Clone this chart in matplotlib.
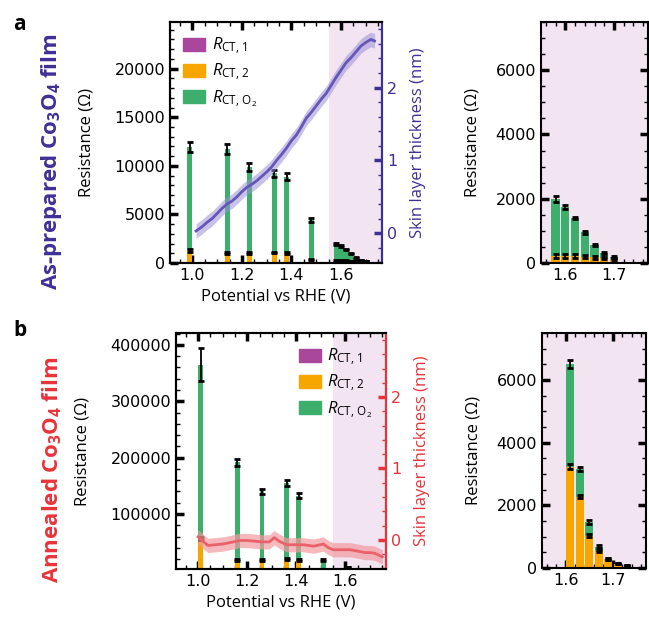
import numpy as np
import matplotlib
matplotlib.use('Agg')
import matplotlib.pyplot as plt
from matplotlib.patches import Patch
from matplotlib.ticker import MultipleLocator

plt.rcParams['font.family'] = ['DejaVu Sans']
plt.rcParams['mathtext.fontset'] = 'custom'
plt.rcParams['mathtext.rm'] = 'Open Sans'
plt.rcParams['mathtext.it'] = 'Open Sans:italic'
plt.rcParams['mathtext.bf'] = 'Open Sans:bold'

# ---- panel a : as-prepared film ----
a_pot = [0.99, 1.14, 1.23, 1.33, 1.38, 1.48, 1.58, 1.60, 1.62, 1.64, 1.66, 1.68, 1.70]
a_r1 = [30, 30, 30, 30, 30, 30, 30, 30, 30, 30, 30, 30, 30]
a_r2 = [1300, 1000, 1000, 1050, 1000, 350, 180, 200, 190, 170, 150, 130, 100]
a_ro2 = [10620, 10720, 8870, 8170, 7870, 4020, 1790, 1520, 1180, 750, 370, 140, 70]
a_r2_err = [150, 100, 100, 100, 100, 80, 60, 60, 50, 40, 40, 30, 30]
a_ro2_err = [550, 500, 400, 350, 350, 200, 100, 70, 40, 40, 30, 30, 30]

a_skin_v = [1.015, 1.04, 1.06, 1.08, 1.10, 1.12, 1.14, 1.16, 1.18, 1.20, 1.22, 1.24,
            1.26, 1.28, 1.30, 1.32, 1.34, 1.36, 1.38, 1.40, 1.42, 1.44, 1.46, 1.48,
            1.50, 1.52, 1.54, 1.56, 1.58, 1.60, 1.62, 1.64, 1.66, 1.68, 1.70, 1.72, 1.735]
a_skin = [0.03, 0.09, 0.15, 0.20, 0.27, 0.34, 0.40, 0.44, 0.50, 0.57, 0.63, 0.67,
          0.72, 0.78, 0.84, 0.91, 1.00, 1.08, 1.17, 1.27, 1.35, 1.46, 1.58, 1.66,
          1.75, 1.84, 1.92, 2.03, 2.14, 2.24, 2.34, 2.41, 2.49, 2.57, 2.62, 2.66, 2.64]

# ---- panel b : annealed film ----
b_pot = [1.01, 1.16, 1.26, 1.36, 1.41, 1.51, 1.61, 1.63, 1.65, 1.67, 1.69, 1.71, 1.73]
b_r1 = [30, 30, 30, 30, 30, 30, 30, 30, 30, 30, 30, 30, 30]
b_r2 = [57000, 18000, 18000, 20000, 18000, 1500, 3200, 2250, 1000, 520, 250, 110, 40]
b_ro2 = [308000, 174000, 122000, 134500, 114500, 16500, 3270, 870, 440, 130, 20, 0, 0]
b_r2_err = [3000, 1500, 1500, 1500, 1500, 500, 80, 60, 50, 40, 30, 20, 20]
b_ro2_err = [30000, 6000, 5000, 5000, 4000, 1500, 130, 60, 50, 40, 30, 20, 20]

b_skin_v = [1.00, 1.02, 1.04, 1.07, 1.10, 1.13, 1.17, 1.20, 1.23, 1.26, 1.29, 1.31,
            1.33, 1.36, 1.40, 1.43, 1.47, 1.51, 1.53, 1.55, 1.58, 1.62, 1.65, 1.68,
            1.70, 1.72, 1.75]
b_skin = [0.04, -0.02, -0.08, -0.07, -0.06, -0.04, -0.01, -0.01, -0.02, -0.03, -0.03, 0.03,
          -0.02, -0.07, -0.07, -0.07, -0.09, -0.06, -0.11, -0.14, -0.14, -0.14, -0.16, -0.18,
          -0.18, -0.19, -0.24]
skin_unc = 0.1

c_r1 = '#a8479b'
c_r2 = '#f7a600'
c_ro2 = '#3dae6b'
shade = '#f2e4f1'
indigo = '#3f3096'
red = '#e8333a'

fig = plt.figure(figsize=(6.49, 6.17), dpi=100)


def style(ax, right=True):
    for s in ax.spines.values():
        s.set_linewidth(1.5)
    ax.tick_params(which='major', direction='in', length=6, width=2.5,
                   top=True, right=right, labelsize=11.5)
    ax.tick_params(which='minor', direction='in', length=3, width=1,
                   top=True, right=right)


def bars(ax, pot, r1, r2, ro2, r2e, ro2e, w):
    pot = np.array(pot)
    r1 = np.array(r1)
    r2 = np.array(r2)
    ro2 = np.array(ro2)
    ax.bar(pot, r1, w, color=c_r1, zorder=2)
    ax.bar(pot, r2, w, bottom=r1, color=c_r2, zorder=2)
    ax.bar(pot, ro2, w, bottom=r1 + r2, color=c_ro2, zorder=2)
    ax.errorbar(pot, r1 + r2, yerr=r2e, fmt='none', ecolor='black',
                elinewidth=1.3, capsize=2.5, capthick=2, zorder=3)
    ax.errorbar(pot, r1 + r2 + ro2, yerr=ro2e, fmt='none', ecolor='black',
                elinewidth=1.3, capsize=2.5, capthick=2, zorder=3)


def legend(ax, loc):
    handles = [Patch(color=c_r1), Patch(color=c_r2), Patch(color=c_ro2)]
    labels = [r'$R_{\mathrm{CT,\,1}}$', r'$R_{\mathrm{CT,\,2}}$', r'$R_{\mathrm{CT,\,O_2}}$']
    ax.legend(handles, labels, loc=loc, frameon=False, fontsize=12,
              handlelength=1.3, handleheight=0.8, handletextpad=0.4,
              labelspacing=0.3, borderaxespad=0.4)


W, H = 649, 617


def box(l, t, r, b):
    return [l / W, 1 - b / H, (r - l) / W, (b - t) / H]


panels = [
    dict(main=box(170, 22, 382, 263), ins=box(541, 22, 648, 263), pot=a_pot,
         r1=a_r1, r2=a_r2, ro2=a_ro2, r2e=a_r2_err, ro2e=a_ro2_err,
         sv=a_skin_v, sk=a_skin, col=indigo, line='#6656b8', band='#9c91d8', alpha=0.55,
         ylim=(0, 24800), minor=1000, loc='upper left', letter='a',
         title='As-prepared Co$_\\mathbf{3}$O$_\\mathbf{4}$ film', ty=0.738, lety=0.96),
    dict(main=box(176, 333, 386, 569), ins=box(542, 333, 646, 568), pot=b_pot,
         r1=b_r1, r2=b_r2, ro2=b_ro2, r2e=b_r2_err, ro2e=b_ro2_err,
         sv=b_skin_v, sk=b_skin, col=red, line='#e9626a', band='#f19ba1', alpha=0.7,
         ylim=(2500, 421000), minor=20000, loc='upper right', letter='b',
         title='Annealed Co$_\\mathbf{3}$O$_\\mathbf{4}$ film', ty=0.238, lety=0.465),
]

for p in panels:
    ax = fig.add_axes(p['main'])
    ax.axvspan(1.55, 1.8, color=shade, zorder=0, lw=0)
    bars(ax, p['pot'], p['r1'], p['r2'], p['ro2'], p['r2e'], p['ro2e'], 0.02)
    ax.set_xlim(0.91, 1.765)
    ax.set_ylim(*p['ylim'])
    ax.xaxis.set_major_locator(MultipleLocator(0.2))
    ax.xaxis.set_minor_locator(MultipleLocator(0.05))
    ax.yaxis.set_minor_locator(MultipleLocator(p['minor']))
    style(ax, right=False)
    ax.set_xlabel('Potential vs RHE (V)', fontsize=12, family='Open Sans')
    ax.set_ylabel('Resistance (\u03a9)', fontsize=12, family='Open Sans', labelpad=14)
    legend(ax, p['loc'])

    tw = ax.twinx()
    sv = np.array(p['sv'])
    sk = np.array(p['sk'])
    tw.fill_between(sv, sk - skin_unc, sk + skin_unc, color=p['band'],
                    alpha=p['alpha'], lw=0)
    tw.plot(sv, sk, color=p['line'], lw=2)
    tw.set_ylim(-0.41, 2.9)
    tw.yaxis.set_major_locator(MultipleLocator(1))
    tw.yaxis.set_minor_locator(MultipleLocator(0.2))
    for s in tw.spines.values():
        s.set_linewidth(1.5)
    tw.spines['right'].set_color(p['col'])
    tw.tick_params(which='major', direction='in', length=6, width=2.5,
                   colors=p['col'], labelsize=11.5)
    tw.tick_params(which='minor', direction='in', length=3, width=1, colors=p['col'])
    tw.set_ylabel('Skin layer thickness (nm)', fontsize=12, family='Open Sans',
                  color=p['col'], labelpad=9)

    ins = fig.add_axes(p['ins'])
    ins.set_facecolor(shade)
    bars(ins, p['pot'], p['r1'], p['r2'], p['ro2'], p['r2e'], p['ro2e'], 0.017)
    ins.set_xlim(1.55, 1.77)
    ins.set_ylim(0, 7500)
    ins.xaxis.set_major_locator(MultipleLocator(0.1))
    ins.xaxis.set_minor_locator(MultipleLocator(0.02))
    ins.yaxis.set_major_locator(MultipleLocator(2000))
    ins.yaxis.set_minor_locator(MultipleLocator(500))
    style(ins)
    ins.set_ylabel('Resistance (\u03a9)', fontsize=12, family='Open Sans', labelpad=11)

    fig.text(0.08, p['ty'], p['title'], rotation=90, ha='center', va='center',
             fontsize=16, fontweight='bold', family='Open Sans', color=p['col'])
    fig.text(0.02, p['lety'], p['letter'], ha='left', va='center',
             fontsize=15, fontweight='bold', family='Open Sans')

fig.savefig('out.png', dpi=100)
